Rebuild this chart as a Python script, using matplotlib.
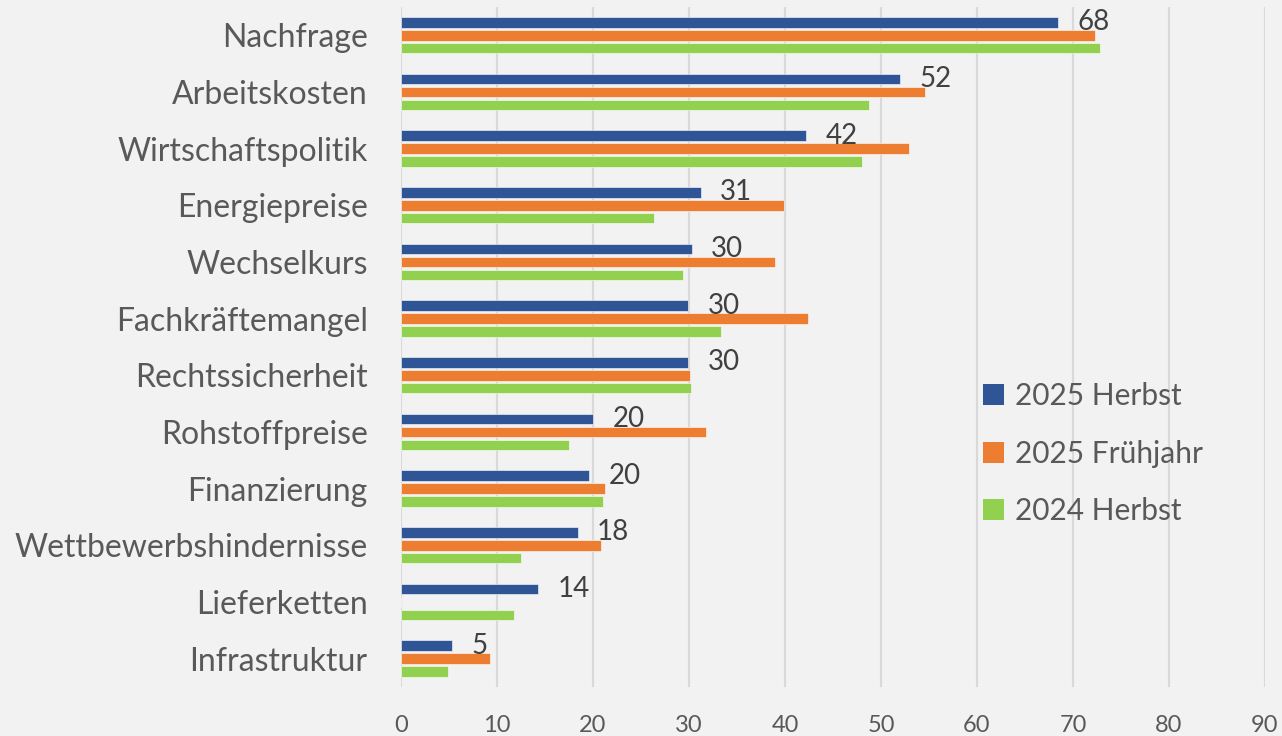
import matplotlib
matplotlib.use('Agg')
import numpy as np
import matplotlib.pyplot as plt
from matplotlib.patches import Patch

plt.rcParams['font.family'] = ['Lato', 'DejaVu Sans']

# Kategorien von oben nach unten
categories = ['Nachfrage', 'Arbeitskosten', 'Wirtschaftspolitik', 'Energiepreise',
              'Wechselkurs', 'Fachkräftemangel', 'Rechtssicherheit', 'Rohstoffpreise',
              'Finanzierung', 'Wettbewerbshindernisse', 'Lieferketten', 'Infrastruktur']

herbst_2025 = [68.4, 52.0, 42.2, 31.2, 30.3, 29.9, 29.9, 20.0, 19.6, 18.4, 14.3, 5.3]
fruehjahr_2025 = [72.3, 54.6, 52.9, 39.9, 39.0, 42.4, 30.1, 31.8, 21.2, 20.8, np.nan, 9.3]
herbst_2024 = [72.8, 48.8, 48.0, 26.4, 29.4, 33.3, 30.2, 17.5, 21.0, 12.5, 11.8, 4.9]

series_names = ['2025 Herbst', '2025 Frühjahr', '2024 Herbst']
series_colors = ['#2F5597', '#ED7D31', '#92D050']
x_ticks = [0, 10, 20, 30, 40, 50, 60, 70, 80, 90]

bg = '#F2F2F2'
fig = plt.figure(figsize=(12.82, 7.36), dpi=100, facecolor=bg)
ax = fig.add_axes([0.3128, 0.0666, 0.6739, 0.9239], facecolor=bg)

y = np.arange(len(categories))
pitch = 0.228
bar_h = 0.185
all_series = [herbst_2025, fruehjahr_2025, herbst_2024]
for i, (vals, col) in enumerate(zip(all_series, series_colors)):
    offs = (i - 1) * pitch
    ax.barh(y + offs, np.nan_to_num(vals), height=bar_h, color=col,
            edgecolor='white', linewidth=0.4, zorder=3)

# Datenbeschriftung nur für die aktuelle Umfrage
for yi, v in zip(y, herbst_2025):
    ax.annotate(f'{v:.0f}', xy=(v, yi - pitch), xytext=(14, 0),
                textcoords='offset points', ha='left', va='center',
                fontsize=20, color='#404040', zorder=4)

ax.set_ylim(len(categories) - 0.5, -0.5)
ax.set_xlim(0, 90)
ax.set_xticks(x_ticks)
ax.set_yticks(y)
ax.set_yticklabels(categories)
ax.tick_params(axis='y', length=0, pad=24, labelsize=23, labelcolor='#595959')
ax.tick_params(axis='x', length=0, pad=20, labelsize=17, labelcolor='#595959')
ax.grid(axis='x', color='#D9D9D9', linewidth=1.5, zorder=0)
ax.set_axisbelow(True)
for s in ax.spines.values():
    s.set_visible(False)

handles = [Patch(facecolor=c, edgecolor='none') for c in series_colors]
fig.legend(handles, series_names, loc='upper left', bbox_to_anchor=(0.746, 0.517),
           frameon=False, fontsize=21.5, labelcolor='#595959',
           handlelength=0.7, handleheight=0.7, handletextpad=0.35,
           labelspacing=0.98)

fig.savefig('out.png', dpi=100, facecolor=bg)
